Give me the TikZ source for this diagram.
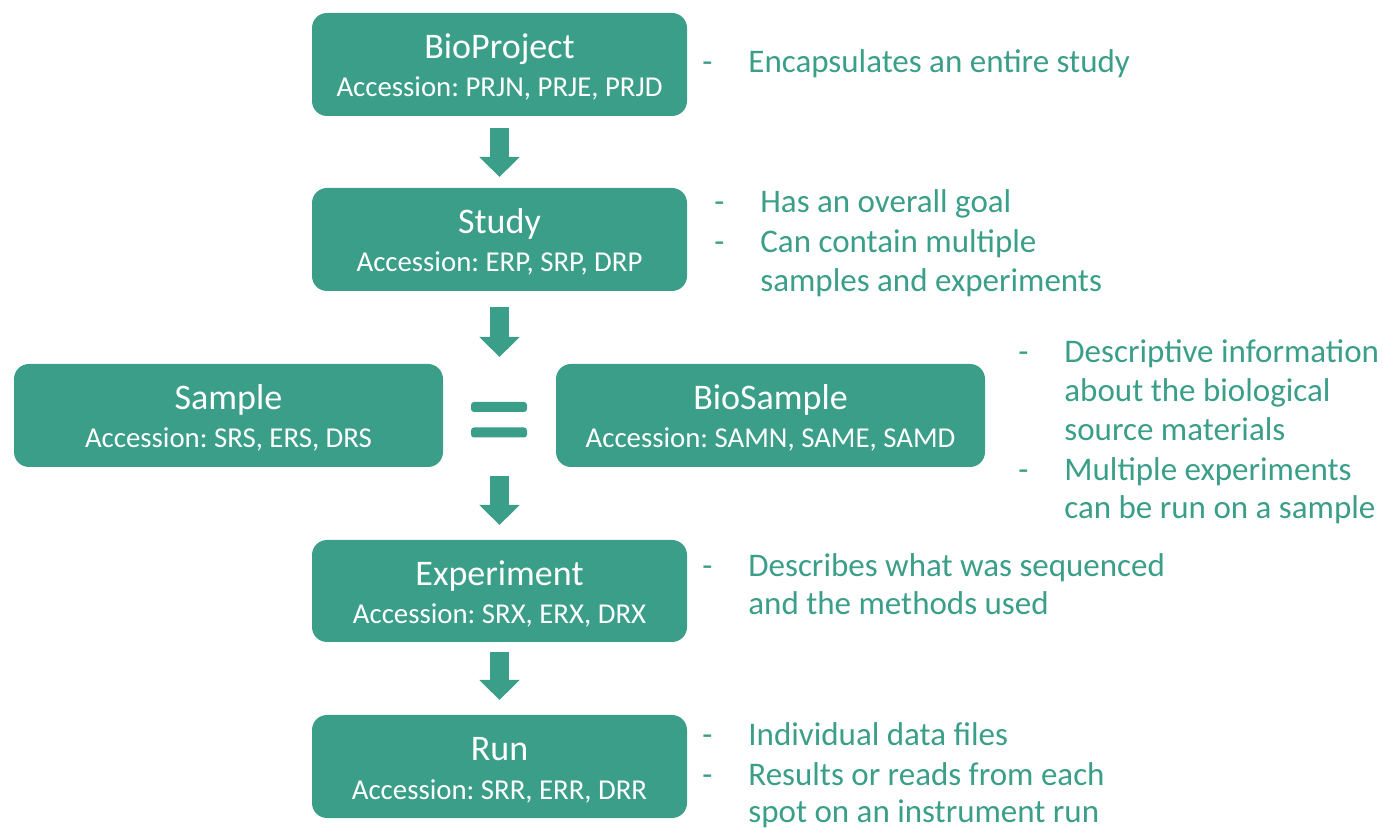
\documentclass[tikz,border=0pt]{standalone}
\usepackage{fontspec}
\setmainfont{Carlito}
\usetikzlibrary{arrows.meta}
\definecolor{teal1}{RGB}{58,158,137}
\frenchspacing
\begin{document}
\begin{tikzpicture}[x=0.5pt,y=-0.5pt,
 box/.style={fill=teal1, rectangle, rounded corners=7.5pt, inner sep=0pt, outer sep=0pt},
 ttl/.style={text=white, anchor=base, inner sep=0pt, font=\fontsize{18}{20}\selectfont},
 sub/.style={text=white, anchor=base, inner sep=0pt, font=\fontsize{14.4}{17}\selectfont},
 side/.style={text=teal1, anchor=base west, inner sep=0pt, font=\fontsize{16.5}{19.75}\selectfont},
 blk/.style={draw=teal1, line width=9.5pt, -{Triangle[width=19.5pt,length=10pt]}},
 eqbar/.style={fill=teal1, rectangle, rounded corners=1.5pt, minimum width=28pt, minimum height=5pt, inner sep=0pt}
]
\useasboundingbox (0,0) rectangle (1383,828);

% boxes
\node[box, minimum width=187.5pt, minimum height=51.5pt] (bp) at (499.5,64.5) {};
\node[box, minimum width=187.5pt, minimum height=51.5pt] (st) at (499.5,239.5) {};
\node[box, minimum width=214.5pt, minimum height=51.5pt] (sa) at (228.5,415.5) {};
\node[box, minimum width=214.5pt, minimum height=51.5pt] (bs) at (770.5,415.5) {};
\node[box, minimum width=187.5pt, minimum height=51pt] (ex) at (499.5,591) {};
\node[box, minimum width=187.5pt, minimum height=51.5pt] (ru) at (499.5,766.5) {};

% box texts
\node[ttl] (bpt) at (499.5,59) {BioProject};
\node[sub] (bps) at (499.5,97) {Accession: PRJN, PRJE, PRJD};
\node[ttl] (stt) at (499.5,234) {Study};
\node[sub] (sts) at (499.5,272) {Accession: ERP, SRP, DRP};
\node[ttl] (sat) at (228.5,410) {Sample};
\node[sub] (sas) at (228.5,448) {Accession: SRS, ERS, DRS};
\node[ttl] (bst) at (770.5,410) {BioSample};
\node[sub] (bss) at (770.5,448) {Accession: SAMN, SAME, SAMD};
\node[ttl] (ext) at (499.5,586) {Experiment};
\node[sub] (exs) at (499.5,624) {Accession: SRX, ERX, DRX};
\node[ttl] (rut) at (499.5,761) {Run};
\node[sub] (rus) at (499.5,799) {Accession: SRR, ERR, DRR};

% equals sign
\node[eqbar] (eq1) at (499,407) {};
\node[eqbar] (eq2) at (499,432.5) {};

% block arrows
\coordinate (midtop) at (499.5,364);
\coordinate (midbot) at (499.5,467);
\draw[blk, shorten <=6pt, shorten >=5.5pt] (bp.south) -- (st.north);
\draw[blk, shorten <=8pt, shorten >=3.5pt] (st.south) -- (midtop);
\draw[blk, shorten <=4.5pt, shorten >=7.5pt] (midbot) -- (ex.north);
\draw[blk, shorten <=5pt, shorten >=7.5pt] (ex.south) -- (ru.north);

% side texts
\node[side] (d1) at (702,73) {-};
\node[side] (s1) at (748,73) {Encapsulates an entire study};

\node[side] (d2a) at (714,213) {-};
\node[side] (s2a) at (760,213) {Has an overall goal};
\node[side] (d2b) at (714,253) {-};
\node[side] (s2b) at (760,253) {Can contain multiple};
\node[side] (s2c) at (760,292) {samples and experiments};

\node[side] (d3a) at (1018,363) {-};
\node[side] (s3a) at (1064,363) {Descriptive information};
\node[side] (s3b) at (1064,402) {about the biological};
\node[side] (s3c) at (1064,441) {source materials};
\node[side] (d3b) at (1018,481) {-};
\node[side] (s3d) at (1064,481) {Multiple experiments};
\node[side] (s3e) at (1064,519) {can be run on a sample};

\node[side] (d4) at (702,577) {-};
\node[side] (s4a) at (748,577) {Describes what was sequenced};
\node[side] (s4b) at (748,615) {and the methods used};

\node[side] (d5a) at (702,746) {-};
\node[side] (s5a) at (748,746) {Individual data files};
\node[side] (d5b) at (702,785) {-};
\node[side] (s5b) at (748,785) {Results or reads from each};
\node[side] (s5c) at (748,822) {spot on an instrument run};
\end{tikzpicture}
\end{document}
